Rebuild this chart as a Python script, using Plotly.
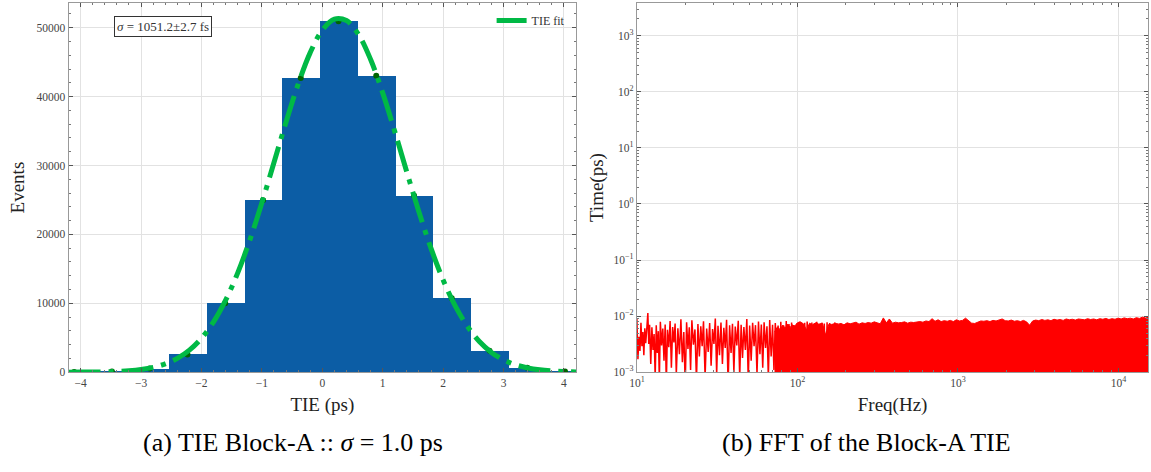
import plotly.graph_objects as go

# ---------------- Left panel: TIE histogram ----------------
bin_centers = [-4.107, -3.482, -2.857, -2.232, -1.607, -0.982, -0.357,
               0.268, 0.893, 1.518, 2.143, 2.768, 3.393, 4.018]
counts = [25, 110, 540, 2580, 10000, 24970, 42710,
          50930, 43040, 25640, 10720, 3110, 630, 95]
bin_width = 0.625

fit_x = [-4.2, -4.0, -3.8, -3.6, -3.4, -3.2, -3.0, -2.8, -2.6, -2.4, -2.2,
         -2.0, -1.8, -1.6, -1.4, -1.2, -1.0, -0.8, -0.6, -0.4, -0.2, 0.0,
         0.2, 0.4, 0.6, 0.8, 1.0, 1.2, 1.4, 1.6, 1.8, 2.0, 2.2, 2.4, 2.6,
         2.8, 3.0, 3.2, 3.4, 3.6, 3.8, 4.0, 4.2]
fit_y = [6, 13, 28, 57, 114, 217, 400, 711, 1218, 2013, 3207,
         4932, 7313, 10460, 14418, 19177, 24605, 30439, 36324, 41798, 46394, 49658,
         51266, 51045, 49015, 45396, 40544, 34931, 29020, 23253, 17969, 13395, 9627, 6677, 4462,
         2878, 1789, 1074, 621, 346, 186, 97, 48]

left_xticks = [-4, -3, -2, -1, 0, 1, 2, 3, 4]
left_yticks = [0, 10000, 20000, 30000, 40000, 50000]

# ---------------- Right panel: FFT ----------------
lo_freq = [10.0, 10.15, 10.3, 10.45, 10.6, 10.75, 10.9, 11.05, 11.2, 11.35, 11.5, 11.7, 11.85, 12.0,
           12.2, 12.4, 12.6, 12.8, 13.0, 13.2, 13.4, 13.6, 13.8, 14.0, 14.25, 14.5, 14.75, 15.0,
           15.25, 15.5, 15.8, 16.1, 16.4, 16.7, 17.0, 17.3, 17.6, 18.0, 18.4, 18.8, 19.2, 19.6,
           20.0, 20.4, 20.8, 21.2, 21.6, 22.0, 22.5, 23.0, 23.5, 24.0, 24.5, 25.0, 25.5, 26.0,
           26.6, 27.2, 27.8, 28.4, 29.0, 29.6, 30.2, 30.8, 31.4, 32.0, 32.7, 33.4, 34.1, 34.8,
           35.5, 36.2, 37.0, 37.8, 38.6, 39.4, 40.2, 41.0, 41.9, 42.8, 43.7, 44.6, 45.5, 46.4,
           47.4, 48.4, 49.4, 50.4, 51.5, 52.6, 53.7, 54.8, 56.0, 57.2, 58.4, 59.6, 60.8, 62.0,
           63.3, 64.6, 65.9, 67.2, 68.6, 70.0, 71.4, 72.8, 74.3, 75.8, 77.3, 78.8, 80.4, 82.0,
           83.6, 85.2, 86.9, 88.6, 90.3, 92.0, 93.8, 95.6, 97.4, 99.2, 101, 103, 105, 107,
           109, 111, 113, 115, 117, 119, 121, 123, 125, 127, 129.5, 132, 134.5, 137,
           139.5, 142, 144.5, 147, 150, 153, 156, 159, 162, 165, 168, 171, 174, 177, 180]
lo_amp_e3 = [9.0, 1.7, 4.3, 2.4, 7.6, 2.9, 5.2, 2.0, 6.1, 3.3, 5.5, 11.4, 3.2, 7.0,
             1.4, 6.3, 2.5, 4.8, 0.8, 6.9, 2.2, 5.4, 0.7, 7.9, 3.0, 6.0, 1.6, 7.1,
             0.6, 5.7, 2.8, 8.2, 1.2, 6.4, 3.4, 7.4, 0.9, 6.1, 2.1, 8.8, 1.5, 5.2,
             0.6, 7.8, 2.6, 6.3, 1.1, 8.4, 3.1, 5.8, 0.7, 7.2, 1.9, 6.6, 2.9, 8.1,
             0.8, 6.0, 2.3, 7.5, 1.3, 5.9, 3.2, 9.1, 0.9, 6.7, 2.0, 7.7, 1.4, 6.2,
             2.7, 8.6, 0.6, 6.9, 2.2, 7.3, 1.0, 6.5, 3.0, 8.3, 0.8, 7.0, 1.8, 6.4,
             2.5, 8.9, 0.7, 6.8, 1.6, 7.6, 2.9, 6.9, 0.9, 8.0, 2.1, 7.1, 1.2, 7.8,
             2.7, 6.6, 0.8, 8.5, 1.9, 7.0, 1.1, 7.5, 2.4, 6.8, 0.7, 7.9, 1.5, 6.9,
             2.2, 8.2, 0.9, 7.2, 1.7, 7.7, 0.8, 6.9, 2.0, 7.4, 1.1, 7.9, 2.4, 7.0,
             0.7, 7.6, 1.4, 8.0, 2.1, 7.1, 0.9, 7.7, 1.6, 7.3, 0.8, 7.9, 2.3, 7.2,
             1.0, 7.6, 1.7, 7.4, 0.8, 7.8, 1.2, 7.5, 0.7, 7.3, 1.8, 7.7, 0.9, 7.4, 1.3]

env_freq = [72, 75, 78, 81, 84, 87, 90, 93, 96,
            100, 104, 109, 114, 119, 124, 130, 136, 143, 150, 157, 164, 171, 179, 187, 195,
            204, 213, 222, 232, 242, 253, 264, 276, 288, 301, 314, 328, 343, 358, 374, 391,
            408, 426, 445, 465, 486, 508, 530, 554, 579, 605, 632, 660, 690, 720, 752, 786,
            821, 858, 896, 936, 978, 1022, 1068, 1115, 1165, 1217, 1272, 1329, 1388, 1450,
            1515, 1583, 1654, 1728, 1805, 1886, 1970, 2058, 2150, 2246, 2347, 2452, 2561,
            2676, 2796, 2921, 3051, 3188, 3330, 3479, 3635, 3797, 3967, 4145, 4330, 4524,
            4726, 4937, 5158, 5389, 5630, 5882, 6145, 6420, 6707, 7007, 7320, 7648, 7990,
            8347, 8720, 9110, 9518, 9943, 10388, 10853, 11338, 11845, 12375, 12929, 13507,
            14111, 14742, 15350]
env_amp_e3 = [5.2, 6.4, 5.8, 6.9, 6.1, 7.2, 6.3, 7.0, 6.6,
              7.6, 7.9, 7.3, 5.6, 7.5, 7.0, 7.6, 7.2, 7.5, 4.6, 7.2, 7.0, 7.5, 7.2, 7.4, 7.0,
              7.6, 7.3, 7.5, 7.8, 7.2, 7.6, 7.4, 7.7, 7.5, 7.9, 7.6, 7.3, 9.3, 7.6, 8.9, 7.5,
              7.8, 7.6, 7.7, 7.9, 7.5, 7.8, 7.7, 7.9, 8.0, 7.8, 8.2, 8.0, 9.0, 8.1, 8.6, 8.0,
              8.3, 8.1, 8.4, 8.0, 8.6, 8.2, 8.4, 9.2, 8.3, 7.5, 7.4, 7.8, 8.2, 8.1,
              8.3, 8.0, 8.4, 8.2, 8.6, 8.9, 8.3, 8.2, 8.5, 8.1, 8.3, 8.0, 8.4,
              7.9, 6.9, 8.2, 8.5, 8.3, 8.7, 8.4, 8.6, 8.3, 8.8, 8.5, 8.7, 8.4,
              8.9, 8.6, 8.8, 8.5, 8.9, 8.7, 8.6, 9.0, 8.7, 8.9, 8.6, 9.0, 8.8,
              9.1, 8.7, 9.0, 8.8, 9.2, 8.9, 9.3, 9.0, 9.2, 8.9, 9.4, 9.1,
              9.6, 9.3, 9.5]
floor_amp = 1e-4

right_xticks = [10, 100, 1000, 10000]
right_xticktext = ["10<sup>1</sup>", "10<sup>2</sup>", "10<sup>3</sup>", "10<sup>4</sup>"]
right_yticks = [1e-3, 1e-2, 1e-1, 1, 10, 100, 1000]
right_yticktext = ["10<sup>−3</sup>", "10<sup>−2</sup>", "10<sup>−1</sup>", "10<sup>0</sup>",
                   "10<sup>1</sup>", "10<sup>2</sup>", "10<sup>3</sup>"]

lo_amp = [v * 1e-3 for v in lo_amp_e3]
env_amp = [v * 1e-3 for v in env_amp_e3]

FONT = "Liberation Serif"
BLUE = "#0C5DA5"
GREEN = "#00B945"

fig = go.Figure()
fig.add_trace(go.Bar(x=bin_centers, y=counts, width=bin_width,
                     marker=dict(color=BLUE, line=dict(width=0)),
                     xaxis="x", yaxis="y", showlegend=False))
fig.add_trace(go.Scatter(x=bin_centers, y=counts, mode="markers",
                         marker=dict(color="#006400", size=6),
                         xaxis="x", yaxis="y", showlegend=False))
fig.add_trace(go.Scatter(x=fit_x, y=fit_y, mode="lines", name="TIE fit",
                         line=dict(color=GREEN, width=5, dash="32px,8px,5px,8px", shape="spline"),
                         xaxis="x", yaxis="y"))

fig.add_trace(go.Scatter(x=env_freq, y=[floor_amp] * len(env_freq), mode="lines",
                         line=dict(width=0, color="red"), xaxis="x2", yaxis="y2",
                         showlegend=False, hoverinfo="skip"))
fig.add_trace(go.Scatter(x=env_freq, y=env_amp, mode="lines", fill="tonexty",
                         fillcolor="#ff0000", line=dict(color="#ff0000", width=1),
                         xaxis="x2", yaxis="y2", showlegend=False))
fig.add_trace(go.Scatter(x=lo_freq, y=lo_amp, mode="lines",
                         line=dict(color="#ff0000", width=1.5),
                         xaxis="x2", yaxis="y2", showlegend=False))

W, H = 1151, 472
axis_common = dict(
    showline=True, linecolor="#999", linewidth=1, mirror="allticks",
    ticks="inside", ticklen=4, tickcolor="#555", tickwidth=1,
    showgrid=True, gridcolor="#e2e2e2", gridwidth=1, zeroline=False,
    tickfont=dict(family=FONT, size=11.5, color="#444"),
    title_font=dict(family=FONT, size=19, color="#222"),
)

minor_lin = dict(ticks="inside", ticklen=2, tickcolor="#777", showgrid=False)
log_minor_x = [m * 10 ** e for e in range(1, 5) for m in range(2, 10)]
log_minor_y = [m * 10 ** e for e in range(-3, 4) for m in range(2, 10)]

fig.update_layout(
    width=W, height=H,
    margin=dict(l=0, r=0, t=0, b=0),
    paper_bgcolor="white", plot_bgcolor="white",
    bargap=0,
    font=dict(family=FONT, color="#333"),
    xaxis=dict(domain=[61 / W, 572 / W], range=[-4.2, 4.2], tickvals=left_xticks,
               title=dict(text="TIE (ps)", standoff=9),
               minor=dict(dtick=0.2, **minor_lin), anchor="y", **axis_common),
    yaxis=dict(domain=[(H - 377) / H, (H - 3) / H], range=[0, 53600], tickvals=left_yticks,
               tickformat="d", title=dict(text="Events", standoff=6),
               minor=dict(dtick=2000, **minor_lin), anchor="x", **axis_common),
    xaxis2=dict(domain=[633.3 / W, 1148.3 / W], type="log", range=[1, 4.186],
                tickvals=right_xticks, ticktext=right_xticktext,
                title=dict(text="Freq(Hz)", standoff=9),
                minor=dict(tickvals=log_minor_x, **minor_lin), anchor="y2", **axis_common),
    yaxis2=dict(domain=[(H - 377) / H, (H - 3) / H], type="log", range=[-3, 3.585],
                tickvals=right_yticks, ticktext=right_yticktext,
                title=dict(text="Time(ps)", standoff=4),
                minor=dict(tickvals=log_minor_y, **minor_lin), anchor="x2", **axis_common),
    legend=dict(x=487 / W, y=(H - 6) / H, xanchor="left", yanchor="top",
                bgcolor="rgba(0,0,0,0)", font=dict(family=FONT, size=12, color="#333")),
    annotations=[
        dict(text="<i>σ</i> = 1051.2±2.7 fs", x=156.5 / W, y=1 - 26.5 / H, xref="paper", yref="paper",
             xanchor="center", yanchor="middle",
             showarrow=False, font=dict(family=FONT, size=13, color="#333"),
             bordercolor="#333", borderwidth=1, borderpad=2, bgcolor="white"),
        dict(text="(a) TIE Block-A :: <i>σ</i> = 1.0 ps", x=287 / W, y=1 - 448 / H,
             xref="paper", yref="paper", showarrow=False, xanchor="center", yanchor="middle",
             font=dict(family=FONT, size=26, color="black")),
        dict(text="(b) FFT of the Block-A TIE", x=864.5 / W, y=1 - 448 / H,
             xref="paper", yref="paper", showarrow=False, xanchor="center", yanchor="middle",
             font=dict(family=FONT, size=26, color="black")),
    ],
)

fig.write_html("out.html")
